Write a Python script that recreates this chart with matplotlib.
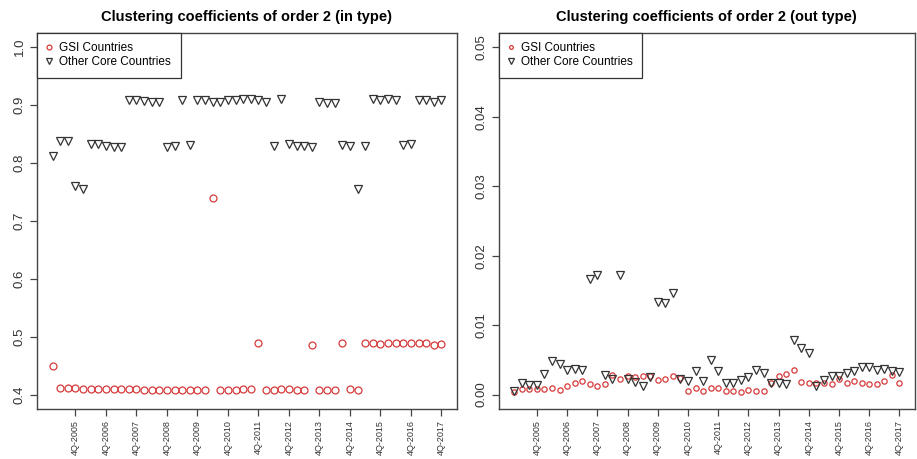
import numpy as np
import matplotlib.pyplot as plt

plt.rcParams['font.family'] = ['Liberation Sans', 'DejaVu Sans']

# quarters 1Q-2005 ... 4Q-2017 (52 points)
quarters = np.arange(52)
tick_pos = [3, 7, 11, 15, 19, 23, 27, 31, 35, 39, 43, 47, 51]
tick_labels = ['4Q-2005', '4Q-2006', '4Q-2007', '4Q-2008', '4Q-2009', '4Q-2010', '4Q-2011',
               '4Q-2012', '4Q-2013', '4Q-2014', '4Q-2015', '4Q-2016', '4Q-2017']

# in type
gsi_in = [0.450, 0.412, 0.412, 0.412, 0.411, 0.411, 0.411, 0.410, 0.410, 0.410,
          0.410, 0.410, 0.408, 0.408, 0.408, 0.409, 0.408, 0.409, 0.409, 0.409,
          0.409, 0.740, 0.408, 0.409, 0.409, 0.410, 0.410, 0.490, 0.409, 0.409,
          0.410, 0.410, 0.409, 0.409, 0.487, 0.409, 0.409, 0.408, 0.490, 0.410,
          0.409, 0.490, 0.490, 0.488, 0.490, 0.489, 0.489, 0.490, 0.489, 0.489,
          0.487, 0.488]
other_in = [0.812, 0.838, 0.838, 0.760, 0.755, 0.832, 0.832, 0.830, 0.827, 0.828,
            0.908, 0.908, 0.907, 0.905, 0.906, 0.828, 0.830, 0.908, 0.831, 0.908,
            0.908, 0.905, 0.906, 0.908, 0.909, 0.911, 0.910, 0.909, 0.906, 0.830,
            0.911, 0.832, 0.830, 0.829, 0.827, 0.905, 0.904, 0.903, 0.831, 0.830,
            0.755, 0.830, 0.910, 0.908, 0.910, 0.909, 0.831, 0.833, 0.908, 0.909,
            0.905, 0.908]

# out type
gsi_out = [0.0003, 0.0008, 0.0008, 0.0008, 0.0008, 0.0009, 0.0007, 0.0012, 0.0017, 0.0020,
           0.0015, 0.0013, 0.0015, 0.0028, 0.0023, 0.0026, 0.0025, 0.0026, 0.0026, 0.0021,
           0.0023, 0.0026, 0.0024, 0.0005, 0.0010, 0.0005, 0.0010, 0.0010, 0.0005, 0.0005,
           0.0004, 0.0006, 0.0005, 0.0005, 0.0016, 0.0026, 0.0029, 0.0036, 0.0018, 0.0017,
           0.0016, 0.0016, 0.0015, 0.0023, 0.0016, 0.0019, 0.0017, 0.0015, 0.0015, 0.0019,
           0.0028, 0.0016]
other_out = [0.0005, 0.0016, 0.0014, 0.0014, 0.0029, 0.0049, 0.0044, 0.0036, 0.0037, 0.0035,
             0.0167, 0.0172, 0.0028, 0.0023, 0.0172, 0.0022, 0.0018, 0.0012, 0.0025, 0.0133,
             0.0132, 0.0146, 0.0023, 0.0019, 0.0034, 0.0019, 0.0050, 0.0034, 0.0016, 0.0016,
             0.0021, 0.0025, 0.0035, 0.0031, 0.0017, 0.0016, 0.0015, 0.0078, 0.0067, 0.0060,
             0.0013, 0.0021, 0.0027, 0.0026, 0.0031, 0.0034, 0.0039, 0.0039, 0.0035, 0.0037,
             0.0034, 0.0033]

red = '#d63a3a'
dark = '#333333'

fig = plt.figure(figsize=(9.17, 4.59), dpi=100)
ax1 = fig.add_axes([0.0403, 0.109, 0.458, 0.819])
ax2 = fig.add_axes([0.544, 0.109, 0.4537, 0.819])


def panel(ax, gsi, other, ylim, yticks, ylabels, title, circ_ms):
    ax.plot(quarters, gsi, 'o', ms=circ_ms, mfc='none', mec=red, mew=0.9,
            linestyle='none', label='GSI Countries')
    ax.plot(quarters, other, 'v', ms=6, mfc='none', mec=dark, mew=0.9,
            linestyle='none', label='Other Core Countries')
    ax.set_xlim(-2.04, 53.04)
    ax.set_ylim(*ylim)
    ax.set_yticks(yticks)
    ax.set_yticklabels(ylabels, rotation=90, va='center', fontsize=9.5, color='#333333')
    ax.set_xticks(tick_pos)
    ax.set_xticklabels(tick_labels, rotation=90, fontsize=6.5, color='#333333')
    ax.tick_params(length=5, width=0.9, color='#444444', pad=3)
    for s in ax.spines.values():
        s.set_color('#444444')
        s.set_linewidth(1.0)
    ax.set_title(title, fontweight='bold', fontsize=10.5, pad=9)
    leg = ax.legend(loc='upper left', borderaxespad=0, fancybox=False, framealpha=1,
                    edgecolor='#333333', fontsize=8.5, handletextpad=0.6, borderpad=0.8,
                    labelspacing=0.15, handlelength=0.5, markerscale=0.7)
    leg.get_frame().set_linewidth(0.9)


panel(ax1, gsi_in, other_in, (0.376, 1.024),
      [0.4, 0.5, 0.6, 0.7, 0.8, 0.9, 1.0],
      ['0.4', '0.5', '0.6', '0.7', '0.8', '0.9', '1.0'],
      'Clustering coefficients of order 2 (in type)', 5)
panel(ax2, gsi_out, other_out, (-0.00208, 0.05208),
      [0.0, 0.01, 0.02, 0.03, 0.04, 0.05],
      ['0.00', '0.01', '0.02', '0.03', '0.04', '0.05'],
      'Clustering coefficients of order 2 (out type)', 3.8)

fig.savefig('out.png', dpi=100)
